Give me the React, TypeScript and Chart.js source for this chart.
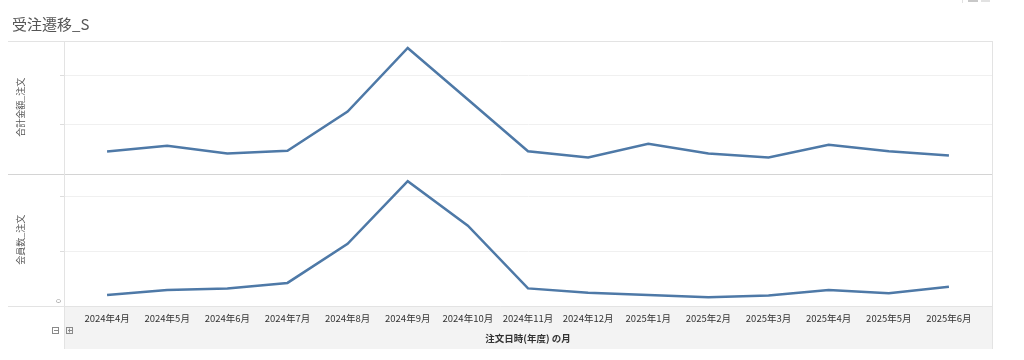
import React, { useEffect, useRef } from "react";
import { Chart, registerables } from "chart.js";

Chart.register(...registerables);

const months = [
  "2024年4月", "2024年5月", "2024年6月", "2024年7月", "2024年8月", "2024年9月", "2024年10月",
  "2024年11月", "2024年12月", "2025年1月", "2025年2月", "2025年3月", "2025年4月", "2025年5月", "2025年6月",
];
const salesValues = [
  4490000, 5650000, 4080000, 4630000, 12650000, 25610000, 15100000,
  4550000, 3270000, 6060000, 4080000, 3270000, 5860000, 4550000, 3670000,
];
const memberValues = [20, 29, 32, 42, 113, 227, 146, 32, 24, 20, 16, 19, 29, 23, 35];
const salesMax = 27040000;
const salesStep = 10000000;
const memberMax = 241;
const memberStep = 100;
const chartTitle = "受注遷移_S";
const salesLabel = "合計金額_注文";
const memberLabel = "会員数_注文";
const xTitle = "注文日時(年度) の月";

const FONT = "'Noto Sans CJK JP', 'Noto Sans', sans-serif";
const LINE = "#4e79a7";

const framePlugin = {
  id: "frame",
  beforeDraw(chart: any) {
    const ctx = chart.ctx;
    const area = chart.chartArea;
    const ys = chart.scales.ySales;
    const ym = chart.scales.yMembers;
    const topScale = ys.top < ym.top ? ys : ym;
    const left = 8;
    const hdr = 64.5;
    const right = 992.5;
    const bandBottom = 349;
    ctx.save();
    // bottom axis band
    ctx.fillStyle = "#f3f3f3";
    ctx.fillRect(hdr, area.bottom, right - hdr, bandBottom - area.bottom);
    // gridlines
    const grid = (scale: any, step: number) => {
      for (let v = step; v < scale.max; v += step) {
        const y = Math.round(scale.getPixelForValue(v)) + 0.5;
        ctx.strokeStyle = "#f0f0f0";
        ctx.lineWidth = 1;
        ctx.beginPath();
        ctx.moveTo(hdr, y);
        ctx.lineTo(right, y);
        ctx.stroke();
        ctx.strokeStyle = "#dddddd";
        ctx.beginPath();
        ctx.moveTo(60, y);
        ctx.lineTo(hdr, y);
        ctx.stroke();
      }
    };
    grid(ys, salesStep);
    grid(ym, memberStep);
    // horizontal frame lines
    const hline = (y: number, color: string) => {
      ctx.strokeStyle = color;
      ctx.lineWidth = 1;
      ctx.beginPath();
      ctx.moveTo(left, Math.round(y) + 0.5);
      ctx.lineTo(right, Math.round(y) + 0.5);
      ctx.stroke();
    };
    hline(area.top, "#e3e3e3");
    hline(topScale.bottom, "#d4d4d4");
    hline(area.bottom, "#e3e3e3");
    // vertical lines
    ctx.strokeStyle = "#e3e3e3";
    ctx.beginPath();
    ctx.moveTo(hdr, area.top);
    ctx.lineTo(hdr, bandBottom);
    ctx.moveTo(right, area.top);
    ctx.lineTo(right, bandBottom);
    ctx.stroke();
    // zero label
    ctx.save();
    ctx.translate(58, area.bottom - 5);
    ctx.rotate(-Math.PI / 2);
    ctx.fillStyle = "#999";
    ctx.font = "7px " + FONT;
    ctx.textAlign = "center";
    ctx.textBaseline = "middle";
    ctx.fillText("0", 0, 0);
    ctx.restore();
    // collapse / expand icons
    const icon = (x: number, plus: boolean) => {
      ctx.strokeStyle = "#8a8a8a";
      ctx.lineWidth = 1;
      ctx.strokeRect(x + 0.5, 327.5, 6, 6);
      ctx.beginPath();
      ctx.moveTo(x + 2, 330.5);
      ctx.lineTo(x + 6, 330.5);
      if (plus) {
        ctx.moveTo(x + 3.5, 328.5);
        ctx.lineTo(x + 3.5, 332.5);
      }
      ctx.stroke();
    };
    icon(52, false);
    icon(66, true);
    // top-right clipped toolbar icons
    ctx.fillStyle = "#c8c8c8";
    ctx.fillRect(968, 0, 10, 2);
    ctx.fillStyle = "#e2e2e2";
    ctx.fillRect(981, 0, 9, 2);
    ctx.strokeStyle = "#e0e0e0";
    ctx.beginPath();
    ctx.moveTo(962.5, 0);
    ctx.lineTo(962.5, 3);
    ctx.stroke();
    ctx.restore();
  },
};

export default function App() {
  const ref = useRef<HTMLCanvasElement | null>(null);
  useEffect(() => {
    if (!ref.current) return;
    const hiddenY = (label: string, max: number, step: number) => ({
      type: "linear" as const,
      position: "left" as const,
      stack: "panels",
      stackWeight: 1,
      min: 0,
      max,
      ticks: { display: false, stepSize: step },
      grid: { display: false, drawTicks: false },
      border: { display: false },
      title: {
        display: true,
        text: label,
        color: "#555",
        font: { family: FONT, size: 9 },
        padding: { top: 7.5, bottom: 0 },
      },
      afterFit: (s: any) => {
        s.width = 69;
      },
    });
    const chart = new Chart(ref.current, {
      type: "line",
      data: {
        labels: months,
        datasets: [
          {
            data: salesValues,
            yAxisID: "ySales",
            borderColor: LINE,
            borderWidth: 2.5,
            pointRadius: 0,
            tension: 0,
            fill: false,
          },
          {
            data: memberValues,
            yAxisID: "yMembers",
            borderColor: LINE,
            borderWidth: 2.5,
            pointRadius: 0,
            tension: 0,
            fill: false,
          },
        ],
      },
      options: {
        responsive: false,
        animation: false,
        devicePixelRatio: 1,
        layout: { padding: { top: 41, left: 8, right: 45, bottom: 11 } },
        plugins: {
          legend: { display: false },
          tooltip: { enabled: false },
          title: { display: false },
        },
        scales: {
          x: {
            type: "category",
            offset: true,
            grid: { display: false, drawTicks: false },
            border: { display: false },
            ticks: {
              color: "#333",
              font: { family: FONT, size: 9.5 },
              padding: 7,
              maxRotation: 0,
              minRotation: 0,
              autoSkip: false,
            },
            title: {
              display: true,
              text: xTitle,
              color: "#333",
              font: { family: FONT, size: 9.5, weight: "bold" },
              padding: { top: 4, bottom: 5 },
            },
            afterFit: (s: any) => {
              s.height = 43;
            },
          },
          yMembers: hiddenY(memberLabel, memberMax, memberStep),
          ySales: hiddenY(salesLabel, salesMax, salesStep),
        },
      } as any,
      plugins: [framePlugin],
    });
    return () => chart.destroy();
  }, []);
  return (
    <div style={{ position: "fixed", left: 0, top: 0, width: 1024, height: 360, background: "#fff" }}>
      <div
        style={{
          position: "absolute",
          left: 12,
          top: 14,
          fontFamily: FONT,
          fontSize: 15,
          lineHeight: "20px",
          color: "#555",
          whiteSpace: "nowrap",
        }}
      >
        {chartTitle}
      </div>
      <canvas ref={ref} width={1024} height={360} style={{ display: "block", width: 1024, height: 360 }} />
    </div>
  );
}
